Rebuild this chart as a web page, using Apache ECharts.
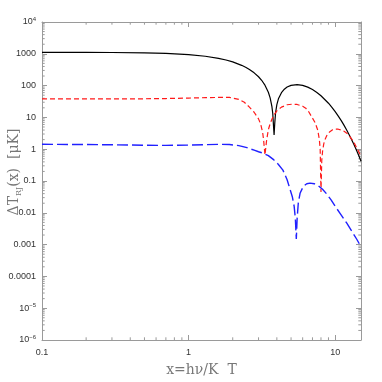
<!DOCTYPE html>
<html><head><meta charset="utf-8">
<script src="https://cdn.jsdelivr.net/npm/echarts@6/dist/echarts.min.js"></script>
<style>html,body{margin:0;padding:0;background:#fff}#c{width:382px;height:382px}</style>
</head><body><div id="c"></div>
<script>
// ---- tick labels ----
const xTickLabels = ['0.1', '1', '10'];            // at 10^-1, 10^0, 10^1
const yTickLabels = ['10⁻⁶', '10⁻⁵', '0.0001', '0.001', '0.01', '0.1', '1', '10', '100', '1000', '10⁴']; // 10^-6 .. 10^4
const xTitle = 'x=hν/K  T';

// ---- black solid curve ----
const xBlack = [0.1, 0.15, 0.2, 0.3, 0.5, 0.7, 1, 1.3, 1.6, 1.8, 2, 2.3, 2.45, 2.6, 2.8, 3, 3.15, 3.3, 3.5, 3.6, 3.7, 3.75, 3.8, 3.83, 3.87, 3.92, 4, 4.1, 4.3, 4.5, 4.7, 5, 5.5, 6, 6.5, 7, 7.5, 8, 9, 9.5, 10, 10.5, 11, 11.5, 12, 12.5, 13, 13.5, 14, 14.5, 15];
const vBlack = [1113, 1111, 1108, 1098, 1069, 1027, 942, 837, 719, 637, 555, 434, 376, 321, 252, 190, 147, 108, 62, 41.3, 22.2, 13.5, 4.9, 2.8, 6.45, 13.9, 25.3, 38.4, 60, 77.1, 90, 102, 107, 101.5, 89.5, 75.2, 60.9, 48, 27.9, 20.7, 15.2, 11.0, 7.9, 5.6, 3.95, 2.76, 1.92, 1.32, 0.91, 0.62, 0.42];

// ---- red short-dashed curve ----
const xRed = [0.1, 0.2, 0.3, 0.5, 0.7, 1, 1.3, 1.6, 1.9, 2.2, 2.4, 2.6, 2.8, 3.0, 3.1, 3.2, 3.25, 3.32, 3.4, 3.5, 3.6, 3.7, 3.85, 4.0, 4.3, 4.7, 5.1, 5.5, 6.0, 6.3, 6.6, 7.0, 7.3, 7.6, 7.8, 7.9, 8.0, 8.1, 8.2, 8.35, 8.5, 8.8, 9.2, 9.6, 10, 10.5, 11, 11.5, 12, 12.5, 13, 13.5, 14, 14.5, 15];
const vRed = [38, 38, 38.1, 38.5, 39.2, 40.5, 41.8, 42.5, 42.5, 37, 30, 21, 14.5, 9, 6.2, 3.4, 1.9, 0.66, 1.8, 4.1, 6.4, 8.7, 12.5, 16, 21, 25, 26, 25.5, 22.5, 19.5, 15, 9.5, 6.8, 4, 2, 1, 0.045, 0.45, 0.85, 1.45, 1.95, 2.8, 3.55, 4.1, 4.3, 4.25, 4.0, 3.65, 3.2, 2.6, 2.05, 1.55, 1.12, 0.82, 0.58];

// ---- blue long-dashed curve ----
const xBlue = [0.1, 0.2, 0.3, 0.5, 0.7, 1, 1.3, 1.6, 1.9, 2.2, 2.5, 2.8, 3.0, 3.2, 3.5, 3.8, 4.1, 4.4, 4.7, 4.92, 5.1, 5.25, 5.35, 5.43, 5.5, 5.6, 5.76, 6.06, 6.4, 6.73, 7.2, 7.7, 8.2, 8.8, 9.4, 10, 11, 12, 13, 14, 15];
const vBlue = [1.43, 1.40, 1.38, 1.33, 1.32, 1.34, 1.39, 1.42, 1.40, 1.30, 1.12, 0.93, 0.83, 0.76, 0.63, 0.47, 0.33, 0.22, 0.11, 0.055, 0.032, 0.016, 0.0065, 0.0015, 0.0065, 0.02, 0.041, 0.068, 0.082, 0.086, 0.082, 0.07, 0.055, 0.038, 0.025, 0.016, 0.0085, 0.0047, 0.0026, 0.0015, 0.00085];

const xMin = 0.1, xMax = 15, yMin = 1e-6, yMax = 1e4;
const axisGray = '#9a9a9a';

function pairs(xs, vs) { return xs.map((x, i) => [x, vs[i]]); }

const supMap = {'⁻': '−', '⁰': '0', '¹': '1', '²': '2', '³': '3', '⁴': '4', '⁵': '5', '⁶': '6', '⁷': '7', '⁸': '8', '⁹': '9'};
function richLabel(s) {
  const m = s.match(/^(\d+)([⁻⁰¹²³⁴⁵⁶⁷⁸⁹]+)$/);
  if (m) return '{b|' + m[1] + '}{s|' + m[2].split('').map(c => supMap[c]).join('') + '}';
  return '{b|' + s + '}';
}
function decadeLabel(v, labels, offset) {
  const l = Math.log10(v), k = Math.round(l);
  if (Math.abs(l - k) > 1e-6) return '';
  const s = labels[k + offset];
  return s === undefined ? '' : richLabel(s);
}

// minor tick values (2..9 x 10^k)
const xMinor = [], yMinor = [];
for (let k = -1; k <= 1; k++) for (let m = 2; m <= 9; m++) { const v = m * Math.pow(10, k); if (v < xMax) xMinor.push(v); }
for (let k = -6; k < 4; k++) for (let m = 2; m <= 9; m++) yMinor.push(m * Math.pow(10, k));

const labelRich = {
  b: {fontFamily: 'Liberation Sans', fontSize: 9, color: '#333', lineHeight: 12},
  s: {fontFamily: 'Liberation Sans', fontSize: 6, color: '#333', verticalAlign: 'top', lineHeight: 7}
};

const baseX = {type: 'log', logBase: 10, min: xMin, max: xMax, interval: 1, splitLine: {show: false},
  axisLine: {lineStyle: {color: axisGray, width: 1}},
  axisTick: {inside: true, length: 5, lineStyle: {color: axisGray}}};
const baseY = {type: 'log', logBase: 10, min: yMin, max: yMax, interval: 1, splitLine: {show: false},
  axisLine: {lineStyle: {color: axisGray, width: 1}},
  axisTick: {inside: true, length: 5, lineStyle: {color: axisGray}}};

const chart = echarts.init(document.getElementById('c'), null, {renderer: 'canvas'});
chart.setOption({
  animation: false,
  backgroundColor: '#fff',
  grid: {left: 42, right: 21, top: 22, bottom: 42, containLabel: false, outerBoundsMode: 'none'},
  xAxis: [
    Object.assign({}, baseX, {position: 'bottom',
      axisLabel: {margin: 7, showMaxLabel: false, formatter: v => decadeLabel(v, xTickLabels, 1), rich: labelRich},
      name: xTitle, nameLocation: 'middle', nameGap: 23, nameMoveOverlap: false,
      nameTextStyle: {fontFamily: 'DejaVu Serif', fontSize: 14, color: '#777'}}),
    Object.assign({}, baseX, {position: 'top', axisLabel: {show: false}})
  ],
  yAxis: [
    Object.assign({}, baseY, {position: 'left',
      axisLabel: {margin: 6, formatter: v => decadeLabel(v, yTickLabels, 6), rich: labelRich},
      name: '{a|ΔT}{r|RJ}{a|(x)  [μK]}', nameLocation: 'middle', nameGap: 19, nameMoveOverlap: false,
      nameTextStyle: {padding: [0, 0, 0, 18], rich: {
        a: {fontFamily: 'DejaVu Serif', fontSize: 14, color: '#777', lineHeight: 18},
        r: {fontFamily: 'DejaVu Serif', fontSize: 8, color: '#777', verticalAlign: 'bottom', lineHeight: 10}
      }}}),
    Object.assign({}, baseY, {position: 'right', axisLabel: {show: false}})
  ],
  series: [
    {type: 'custom', silent: true, coordinateSystem: 'cartesian2d', data: [[xMin, yMin]], z: 1,
      renderItem: function (params, api) {
        const cs = params.coordSys, L = 2.7, ch = [];
        const st = {stroke: axisGray, lineWidth: 1};
        const bot = cs.y + cs.height, top = cs.y, lft = cs.x, rgt = cs.x + cs.width;
        xMinor.forEach(v => {
          const p = api.coord([v, yMin]);
          ch.push({type: 'line', shape: {x1: p[0], y1: bot, x2: p[0], y2: bot - L}, style: st});
          ch.push({type: 'line', shape: {x1: p[0], y1: top, x2: p[0], y2: top + L}, style: st});
        });
        yMinor.forEach(v => {
          const p = api.coord([xMin, v]);
          ch.push({type: 'line', shape: {x1: lft, y1: p[1], x2: lft + L, y2: p[1]}, style: st});
          ch.push({type: 'line', shape: {x1: rgt, y1: p[1], x2: rgt - L, y2: p[1]}, style: st});
        });
        return {type: 'group', children: ch};
      }},
    {type: 'line', data: pairs(xBlack, vBlack), showSymbol: false, symbol: 'none', z: 3,
      lineStyle: {color: '#000', width: 1.2, type: 'solid'}},
    {type: 'line', data: pairs(xRed, vRed), showSymbol: false, symbol: 'none', z: 3,
      lineStyle: {color: '#ff1a1a', width: 1.2, type: [5, 3]}},
    {type: 'line', data: pairs(xBlue, vBlue), showSymbol: false, symbol: 'none', z: 3,
      lineStyle: {color: '#2020ff', width: 1.4, type: [11, 4]}}
  ]
});
</script>
</body></html>
